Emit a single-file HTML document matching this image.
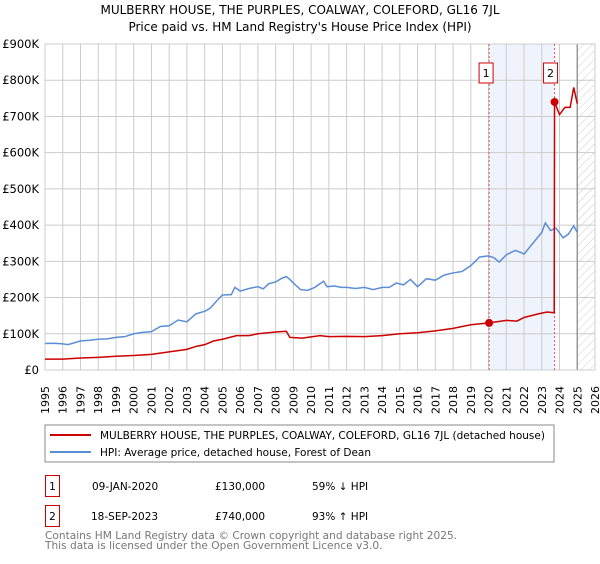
<!DOCTYPE html>
<html><head><meta charset="utf-8"><style>
body{margin:0;background:#fff;font-family:"DejaVu Sans","Liberation Sans",sans-serif;}
svg text{font-family:"DejaVu Sans","Liberation Sans",sans-serif;}
</style></head><body>
<svg id="c" width="600" height="560" xmlns="http://www.w3.org/2000/svg">
<text x="300" y="14" text-anchor="middle" font-size="12">MULBERRY HOUSE, THE PURPLES, COALWAY, COLEFORD, GL16 7JL</text>
<text x="300" y="31" text-anchor="middle" font-size="12">Price paid vs. HM Land Registry's House Price Index (HPI)</text>
<defs><pattern id="h" width="6" height="6" patternUnits="userSpaceOnUse" patternTransform="rotate(45)"><line x1="0" y1="0" x2="0" y2="6" stroke="#ccc" stroke-width="1"/></pattern></defs>
<g id="grid"></g><g id="marks"></g>
<rect x="45" y="425" width="509" height="37" fill="#fff" stroke="#888"/>
<line x1="50" y1="435" x2="91" y2="435" stroke="#cc0000" stroke-width="2"/>
<text x="100" y="439" font-size="10.5">MULBERRY HOUSE, THE PURPLES, COALWAY, COLEFORD, GL16 7JL (detached house)</text>
<line x1="50" y1="452" x2="91" y2="452" stroke="#5b8ed6" stroke-width="2"/>
<text x="100" y="456" font-size="10.5">HPI: Average price, detached house, Forest of Dean</text>
<g font-size="10.5">
<rect x="45.5" y="475.5" width="14" height="21" fill="#fff" stroke="#cc0000"/><text x="52.5" y="490" text-anchor="middle">1</text>
<text x="92" y="490">09-JAN-2020</text><text x="215" y="490">£130,000</text><text x="312" y="490">59% ↓ HPI</text>
<rect x="45.5" y="505.5" width="14" height="21" fill="#fff" stroke="#cc0000"/><text x="52.5" y="520" text-anchor="middle">2</text>
<text x="91" y="520">18-SEP-2023</text><text x="215" y="520">£740,000</text><text x="312" y="520">93% ↑ HPI</text>
</g>
<text x="45" y="539" font-size="10.6" fill="#777">Contains HM Land Registry data © Crown copyright and database right 2025.</text>
<text x="45" y="549" font-size="10.6" fill="#777">This data is licensed under the Open Government Licence v3.0.</text>
</svg>
<script>
const yTicks=[0,100,200,300,400,500,600,700,800,900];
const yLabels=["£0","£100K","£200K","£300K","£400K","£500K","£600K","£700K","£800K","£900K"];
const years=[1995,1996,1997,1998,1999,2000,2001,2002,2003,2004,2005,2006,2007,2008,2009,2010,2011,2012,2013,2014,2015,2016,2017,2018,2019,2020,2021,2022,2023,2024,2025,2026];
const hpiT=[1995,1995.5,1996,1996.3,1997,1997.5,1998,1998.5,1999,1999.5,2000,2000.5,2001,2001.5,2002,2002.5,2003,2003.5,2004,2004.3,2004.7,2005,2005.5,2005.7,2006,2006.5,2007,2007.3,2007.6,2008,2008.3,2008.6,2008.8,2009,2009.4,2009.8,2010.2,2010.7,2010.9,2011.3,2011.7,2012,2012.5,2013,2013.5,2014,2014.4,2014.8,2015.2,2015.6,2016,2016.5,2017,2017.5,2018,2018.5,2019,2019.5,2020,2020.3,2020.6,2021,2021.5,2021.8,2022,2022.5,2023,2023.2,2023.5,2023.8,2024.2,2024.5,2024.8,2025];
const hpiV=[73,74,72,70,80,82,85,86,90,92,100,104,106,120,122,138,133,155,162,170,192,207,208,228,218,225,230,224,238,243,252,258,250,240,222,220,228,245,230,232,228,228,225,228,222,228,228,240,235,250,230,252,248,262,268,272,288,312,315,310,298,318,330,325,320,350,380,406,385,392,365,375,398,380];
const ppT=[1995,1996,1997,1998,1999,2000,2001,2002,2003,2003.5,2004,2004.5,2005,2005.8,2006.5,2007,2008,2008.6,2008.8,2009.5,2010.5,2011,2012,2013,2014,2015,2016,2017,2018,2019,2020.03,2021,2021.6,2022,2022.8,2023.3,2023.7,2023.72,2024,2024.3,2024.6,2024.8,2025];
const ppV=[30,30,33,35,38,40,43,50,57,65,70,80,85,95,95,100,105,107,90,88,95,92,93,92,95,100,103,108,115,125,130,137,135,145,155,160,158,740,705,725,725,780,735];
const sales=[[2020.03,130,"1"],[2023.72,740,"2"]];
const X=t=>45+(t-1995)*550/31, Y=v=>370-v*326/900;
const ns="http://www.w3.org/2000/svg";
function mk(p,tag,a){const e=document.createElementNS(ns,tag);for(const k in a)e.setAttribute(k,a[k]);p.appendChild(e);return e;}
const g=document.getElementById('grid'), m=document.getElementById('marks');
let e=mk(g,'rect',{x:X(2020.03),y:44,width:X(2023.72)-X(2020.03),height:326,fill:'#eef3fc'});


yTicks.forEach((v,i)=>{mk(g,'line',{x1:45,x2:595,y1:Y(v),y2:Y(v),stroke:'#ccc'});
const t=mk(g,'text',{x:39,y:Y(v)+4,'text-anchor':'end','font-size':11.5});t.textContent=yLabels[i];

});
years.forEach(yr=>{mk(g,'line',{x1:X(yr),x2:X(yr),y1:44,y2:370,stroke:'#ccc'});
const t=mk(g,'text',{x:0,y:0,'font-size':11,transform:`translate(${X(yr)+4},414) rotate(-90)`});t.textContent=yr;

});
e=mk(g,'rect',{x:X(2025),y:44,width:595-X(2025),height:326,fill:'url(#h)'});


mk(g,'line',{x1:X(2025),x2:X(2025),y1:44,y2:370,stroke:'#999','stroke-width':1.5});
mk(g,'rect',{x:45,y:44,width:550,height:326,fill:'none',stroke:'#ccc'});
sales.forEach(s=>{mk(m,'line',{x1:X(s[0]),x2:X(s[0]),y1:44,y2:370,stroke:'#e05555','stroke-dasharray':'2,2'});});
function line(T,V,c,n){const p=mk(m,'polyline',{points:T.map((t,i)=>X(t)+','+Y(V[i])).join(' '),fill:'none',stroke:c,'stroke-width':1.5});

}
line(hpiT,hpiV,'#5b8ed6','hpi-line');
line(ppT,ppV,'#cc0000','property-price-line');
sales.forEach(s=>{const c=mk(m,'circle',{cx:X(s[0]),cy:Y(s[1]),r:4,fill:'#cc0000'});


const bx=X(s[0])-(s[2]==="1"?10:11);
mk(m,'rect',{x:bx,y:63,width:14,height:20,fill:'#fff',stroke:'#cc0000'});
const t=mk(m,'text',{x:bx+7,y:77,'text-anchor':'middle','font-size':11});t.textContent=s[2];

});
</script>
</body></html>
